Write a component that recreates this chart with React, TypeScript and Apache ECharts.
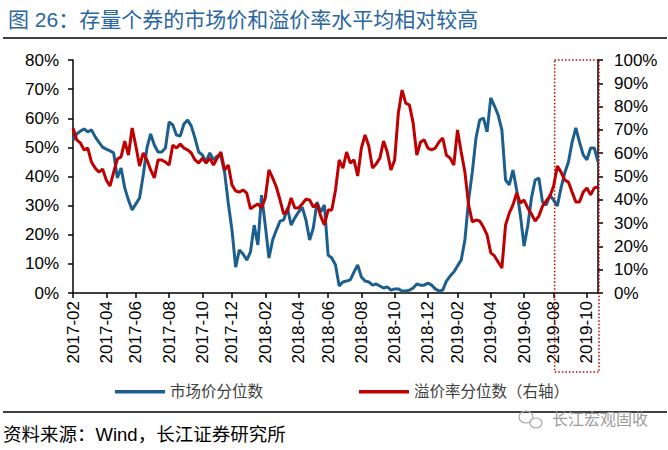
import React, { useEffect, useRef } from "react";
import * as echarts from "echarts";

// Weekly percentile of market price (left axis, %)
const marketPct: number[] = [
  52.5, 54.6, 55.6, 56.3, 55.3, 56.0, 53.6, 51.8, 50.1, 49.4,
  48.8, 48.1, 39.5, 42.9, 36.1, 31.9, 28.5, 30.6, 32.6, 40.5,
  49.8, 54.6, 50.8, 48.4, 48.4, 49.8, 58.7, 57.7, 54.2, 53.9,
  58.0, 59.4, 57.3, 53.2, 48.4, 47.4, 45.0, 48.1, 45.7, 47.0,
  47.0, 41.5, 30.9, 21.6, 8.9, 14.8, 13.4, 11.3, 14.1, 23.3,
  16.5, 33.6, 23.3, 12.0, 18.2, 21.6, 24.7, 25.1, 29.2, 23.3,
  25.8, 27.8, 29.5, 25.1, 18.2, 22.3, 31.2, 27.8, 30.2, 13.0,
  12.0, 9.6, 2.4, 3.8, 4.1, 4.5, 7.2, 9.6, 5.5, 4.1,
  3.8, 2.7, 3.1, 2.4, 1.7, 2.1, 1.0, 1.4, 1.4, 0.7,
  0.7, 1.0, 1.7, 3.1, 2.7, 2.7, 3.4, 2.7, 1.4, 0.7,
  1.0, 4.1, 5.8, 7.2, 9.3, 11.3, 18.2, 31.9, 41.5, 53.2,
  59.4, 60.1, 55.3, 67.0, 64.2, 61.1, 56.0, 38.8, 37.1, 42.2,
  35.4, 26.8, 16.1, 23.0, 32.6, 38.8, 39.5, 31.2, 30.2, 33.6,
  31.9, 29.9, 36.1, 41.2, 45.0, 51.8, 56.7, 51.8, 47.4, 45.7,
  49.8, 49.8, 45.0,
];

// Weekly percentile of conversion premium (right axis, %)
const premiumPct: number[] = [
  70.8, 65.7, 64.4, 61.4, 62.2, 56.2, 53.6, 51.9, 53.2, 48.5,
  45.9, 51.9, 57.5, 58.4, 65.2, 59.2, 70.8, 63.1, 54.5, 60.1,
  57.1, 52.8, 49.4, 57.1, 57.1, 56.2, 54.9, 63.5, 62.2, 63.9,
  62.2, 61.4, 60.1, 57.1, 55.8, 57.9, 55.8, 57.9, 54.9, 57.9,
  60.5, 52.8, 54.9, 46.4, 43.8, 43.3, 44.2, 42.9, 36.1, 37.3,
  38.2, 36.5, 40.8, 52.8, 49.4, 45.5, 39.9, 33.9, 35.2, 40.8,
  36.5, 36.5, 38.2, 40.3, 39.9, 36.9, 38.2, 33.0, 29.2, 35.6,
  35.6, 44.2, 57.1, 53.6, 60.5, 55.8, 57.1, 50.2, 62.2, 67.8,
  63.1, 53.6, 55.4, 57.9, 65.2, 60.5, 52.8, 57.1, 77.3, 87.1,
  81.5, 80.7, 73.0, 59.2, 64.8, 65.7, 62.2, 61.4, 62.2, 64.8,
  66.5, 59.2, 57.9, 54.9, 70.0, 60.5, 51.9, 37.8, 30.5, 31.3,
  30.9, 28.3, 24.9, 17.2, 15.9, 13.3, 10.7, 29.2, 34.3, 37.8,
  42.9, 38.6, 39.9, 36.5, 33.9, 30.9, 33.0, 37.3, 39.5, 41.6,
  45.9, 54.5, 51.9, 48.5, 47.6, 43.3, 39.1, 39.1, 43.3, 45.1,
  42.1, 45.1, 45.5,
];

// Weekly observation dates (Fridays), starting 2017-02-03
const FIRST_FRIDAY = Date.UTC(2017, 1, 3);
const WEEK_MS = 7 * 24 * 3600 * 1000;
const weekDates: string[] = marketPct.map((_, i) =>
  new Date(FIRST_FRIDAY + i * WEEK_MS).toISOString().slice(0, 10)
);

// Highlighted recent window starts here
const highlightStart = "2019-08-02";

const seriesNames = ["市场价分位数", "溢价率分位数（右轴）"];
const titleText = "图 26：存量个券的市场价和溢价率水平均相对较高";
const sourceText = "资料来源：Wind，长江证券研究所";
const brandText = "长江宏观固收";

const FONT = "'Liberation Sans', 'Noto Sans CJK SC', sans-serif";
const BLUE = "#1c5f8e";
const RED = "#c00000";

// A tick/label sits on the first Friday of every even month
const isTickWeek = (i: number) => {
  const d = weekDates[i];
  if (!d) return false;
  const m = +d.slice(5, 7);
  const day = +d.slice(8, 10);
  return m % 2 === 0 && day <= 7;
};

export default function App() {
  const ref = useRef<HTMLDivElement>(null);

  useEffect(() => {
    if (!ref.current) return;
    const chart = echarts.init(ref.current, undefined, { renderer: "svg" });

    const axisLineStyle = { color: "#000", width: 1.5 };

    const baseGraphics: any[] = [
      {
        id: "titleRule",
        type: "line",
        shape: { x1: 3, y1: 38, x2: 667, y2: 38 },
        style: { stroke: "#000", lineWidth: 1.5 },
      },
      {
        id: "footRule",
        type: "line",
        shape: { x1: 3, y1: 412, x2: 667, y2: 412 },
        style: { stroke: "#000", lineWidth: 1.5 },
      },
      {
        id: "source",
        type: "text",
        x: 3,
        y: 434,
        style: {
          text: sourceText,
          fill: "#000",
          font: `18.5px ${FONT}`,
          verticalAlign: "middle",
        },
      },
      {
        id: "brandIconA",
        type: "ellipse",
        shape: { cx: 526, cy: 417, rx: 7, ry: 6 },
        style: { fill: "none", stroke: "#a8a8a8", lineWidth: 1.2 },
      },
      {
        id: "brandIconB",
        type: "ellipse",
        shape: { cx: 536, cy: 423, rx: 6, ry: 5 },
        style: { fill: "#fff", stroke: "#a8a8a8", lineWidth: 1.2 },
      },
      {
        id: "brand",
        type: "text",
        x: 552,
        y: 419,
        style: {
          text: brandText,
          fill: "#9c9c9c",
          font: `16px ${FONT}`,
          verticalAlign: "middle",
        },
      },
    ];

    chart.setOption({
      animation: false,
      textStyle: { fontFamily: FONT },
      title: {
        text: titleText,
        left: 3,
        top: 4,
        textStyle: {
          fontSize: 21,
          fontWeight: "normal",
          color: "#2a66a0",
          fontFamily: FONT,
        },
      },
      grid: { left: 73, right: 70, top: 60, bottom: 157 },
      legend: {
        data: seriesNames,
        left: 115,
        top: 384,
        icon: "rect",
        itemWidth: 50,
        itemHeight: 3.5,
        itemGap: 96,
        padding: 0,
        textStyle: { fontSize: 15.5, color: "#404040", fontFamily: FONT },
      },
      xAxis: {
        type: "category",
        data: weekDates,
        boundaryGap: false,
        axisLine: { lineStyle: axisLineStyle },
        axisTick: {
          interval: (i: number) => isTickWeek(i),
          length: 5,
          lineStyle: axisLineStyle,
        },
        axisLabel: {
          interval: (i: number) => isTickWeek(i),
          rotate: 90,
          margin: 8,
          fontSize: 17,
          color: "#000",
          formatter: (v: string) => v.slice(0, 7),
        },
        splitLine: { show: false },
      },
      yAxis: [
        {
          type: "value",
          min: 0,
          max: 80,
          interval: 10,
          axisLine: { show: true, lineStyle: axisLineStyle },
          axisTick: { show: true, length: 5, lineStyle: axisLineStyle },
          axisLabel: {
            formatter: "{value}%",
            fontSize: 17,
            color: "#000",
            margin: 14,
          },
          splitLine: { show: false },
        },
        {
          type: "value",
          position: "right",
          min: 0,
          max: 100,
          interval: 10,
          axisLine: { show: true, lineStyle: axisLineStyle },
          axisTick: { show: true, length: 5, lineStyle: axisLineStyle },
          axisLabel: {
            formatter: "{value}%",
            fontSize: 17,
            color: "#000",
            margin: 16,
          },
          splitLine: { show: false },
        },
      ],
      series: [
        {
          name: seriesNames[0],
          type: "line",
          yAxisIndex: 0,
          data: marketPct,
          symbol: "none",
          lineStyle: { color: BLUE, width: 3 },
          itemStyle: { color: BLUE },
        },
        {
          name: seriesNames[1],
          type: "line",
          yAxisIndex: 1,
          data: premiumPct,
          symbol: "none",
          lineStyle: { color: RED, width: 3 },
          itemStyle: { color: RED },
        },
      ],
      graphic: baseGraphics,
    });

    // Dotted frame around the latest months, placed through the axes
    const x0 = chart.convertToPixel({ xAxisIndex: 0 }, highlightStart) as number;
    const x1 = chart.convertToPixel(
      { xAxisIndex: 0 },
      weekDates[weekDates.length - 1]
    ) as number;
    const yTop = chart.convertToPixel({ yAxisIndex: 1 }, 100) as number;
    const yBottom = 372;

    chart.setOption({
      graphic: [
        ...baseGraphics,
        {
          id: "recentFrame",
          type: "rect",
          shape: { x: x0 + 1, y: yTop, width: x1 - x0, height: yBottom - yTop },
          style: {
            fill: "none",
            stroke: RED,
            lineWidth: 1.5,
            lineDash: [1.5, 2],
          },
          z: 10,
        },
      ],
    });

    return () => chart.dispose();
  }, []);

  return (
    <div
      ref={ref}
      style={{ position: "fixed", left: 0, top: 0, width: 668, height: 450, background: "#fff" }}
    />
  );
}
